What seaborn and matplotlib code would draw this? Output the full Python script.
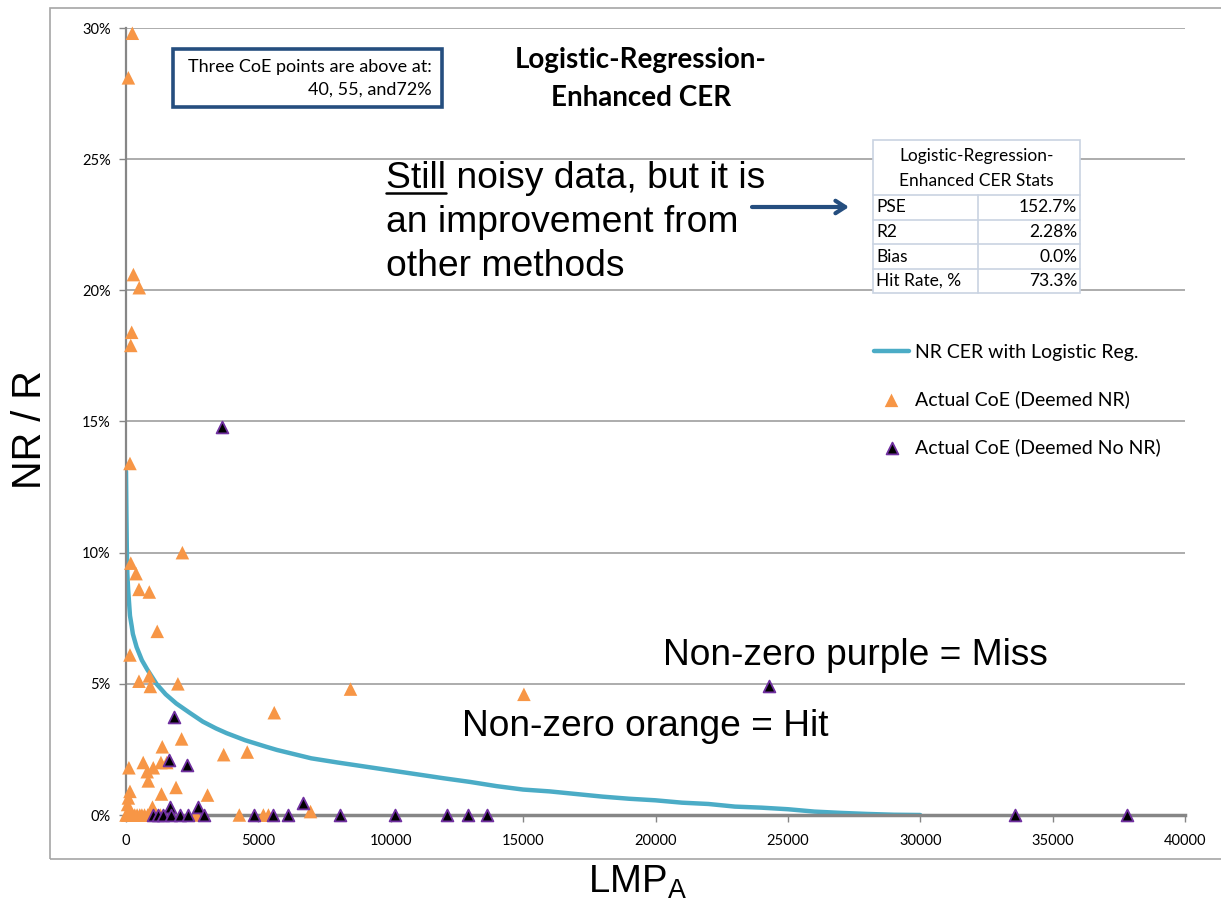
import matplotlib
matplotlib.use("Agg")
import numpy as np
import pandas as pd
import seaborn as sns
import matplotlib.pyplot as plt
from matplotlib.patches import Rectangle
from matplotlib.lines import Line2D
from matplotlib.ticker import FuncFormatter

# ---------------- data ----------------
curve_lmp = [0, 15, 30, 50, 80, 150, 215, 260, 400, 600, 800, 1150, 1500, 1900, 2400,
             2900, 3400, 3800, 4500, 5300, 5700, 7000, 8000, 9000, 10000, 11000, 12000,
             13000, 14000, 15000, 16000, 17000, 18000, 19000, 20000, 21000, 22000, 23000,
             24000, 25000, 26000, 27000, 28000, 29000, 30000]
curve_nr = [13.1, 11.5, 10.2, 9.2, 8.6, 7.6, 7.2, 6.9, 6.4, 5.9, 5.55, 5.0, 4.6, 4.25, 3.9,
            3.56, 3.3, 3.12, 2.85, 2.6, 2.48, 2.16, 2.0, 1.85, 1.7, 1.55, 1.4,
            1.26, 1.1, 0.97, 0.9, 0.8, 0.7, 0.62, 0.56, 0.47, 0.42, 0.32,
            0.28, 0.22, 0.13, 0.08, 0.04, 0.01, 0.0]

hit_lmp = [240, 90, 280, 500, 215, 180, 150, 180, 380, 490, 880, 2130, 1180, 150, 490, 880,
           920, 1960, 8480, 15030, 5600, 1370, 2100, 3690, 4580, 110, 650, 800, 1030, 1320,
           1540, 840, 1340, 1890, 3080, 150, 90, 60, 6970, 1000,
           0, 50, 100, 180, 250, 330, 420, 520, 600, 700, 820, 1000, 1150, 1300, 2650,
           4280, 5190, 5380]
hit_nr = [29.8, 28.1, 20.6, 20.1, 18.4, 17.9, 13.4, 9.6, 9.2, 8.6, 8.5, 10.0, 7.0, 6.1, 5.1, 5.3,
          4.9, 5.0, 4.8, 4.6, 3.9, 2.6, 2.9, 2.3, 2.4, 1.8, 2.0, 1.65, 1.8, 2.0,
          2.0, 1.3, 0.8, 1.05, 0.76, 0.9, 0.65, 0.4, 0.13, 0.3,
          0, 0, 0, 0, 0, 0, 0, 0, 0, 0, 0, 0, 0, 0, 0,
          0, 0, 0]

miss_lmp = [3625, 24280, 1810, 1620, 2300, 1660, 2730, 6700,
            1030, 1220, 1410, 1700, 2040, 2350, 2960, 4830, 5560, 6130, 8080, 10160,
            12110, 12900, 13620, 33570, 37800]
miss_nr = [14.8, 4.9, 3.75, 2.1, 1.9, 0.32, 0.32, 0.45,
           0, 0, 0, 0, 0, 0, 0, 0, 0, 0, 0, 0,
           0, 0, 0, 0, 0]

x_ticks = [0, 5000, 10000, 15000, 20000, 25000, 30000, 35000, 40000]
y_ticks = [0, 5, 10, 15, 20, 25, 30]

series_labels = ["NR CER with Logistic Reg.", "Actual CoE (Deemed NR)", "Actual CoE (Deemed No NR)"]
stats_title = ["Logistic-Regression-", "Enhanced CER Stats"]
stats_names = ["PSE", "R2", "Bias", "Hit Rate, %"]
stats_values = ["152.7%", "2.28%", "0.0%", "73.3%"]

# ---------------- style ----------------
sns.set_style("white")
plt.rcParams["font.family"] = ["Lato", "DejaVu Sans"]
plt.rcParams["text.color"] = "black"
plt.rcParams["axes.labelcolor"] = "black"
plt.rcParams["xtick.color"] = "black"
plt.rcParams["ytick.color"] = "black"
ARIAL = ["Liberation Sans", "DejaVu Sans"]

W, H = 1221, 905
fig = plt.figure(figsize=(W / 100, H / 100), dpi=100)
fig.patch.set_facecolor("white")


def fx(x):
    return x / W


def fy(y):
    return 1 - y / H


ax = fig.add_axes([fx(126), fy(815), (1185 - 126) / W, (815 - 28) / H])
ax.set_facecolor("none")

C_LINE = "#4BACC6"
C_ORANGE = "#F79646"
C_PURPLE = "#7030A0"
C_NAVY = "#254E7F"

sns.lineplot(x=curve_lmp, y=curve_nr, ax=ax, color=C_LINE, lw=3.2, sort=False,
             label=series_labels[0], zorder=2)
sns.scatterplot(x=hit_lmp, y=hit_nr, ax=ax, marker="^", s=95, color=C_ORANGE,
                edgecolor="none", linewidth=0, label=series_labels[1], zorder=3, clip_on=False)
sns.scatterplot(x=miss_lmp, y=miss_nr, ax=ax, marker="^", s=72, color="black",
                edgecolor=C_PURPLE, linewidth=1.3, label=series_labels[2], zorder=4, clip_on=False)

ax.set_xlim(0, 40000)
ax.set_ylim(0, 30)
ax.set_xticks(x_ticks)
ax.set_yticks(y_ticks)
ax.yaxis.set_major_formatter(FuncFormatter(lambda v, p: f"{v:.0f}%"))
ax.set_xlabel("")
ax.set_ylabel("")
ax.grid(axis="y", color="#A6A6A6", lw=1.3)
ax.grid(axis="x", visible=False)
for s in ["top", "right"]:
    ax.spines[s].set_visible(False)
ax.spines["left"].set_color("#868686")
ax.spines["left"].set_linewidth(1.6)
ax.spines["bottom"].set_color("#868686")
ax.spines["bottom"].set_linewidth(2.5)
ax.tick_params(axis="x", direction="out", length=5, width=1, color="#868686",
               labelcolor="black", labelsize=10.5, pad=9, bottom=True)
ax.tick_params(axis="y", direction="out", length=5, width=1, color="#868686",
               labelcolor="black", labelsize=10.5, pad=6, left=True)

handles, labels = ax.get_legend_handles_labels()
leg = ax.legend(handles, labels, loc="upper left", bbox_to_anchor=(fx(874), fy(344)),
                bbox_transform=fig.transFigure, frameon=False, fontsize=14,
                handlelength=1.8, handletextpad=0.3, labelspacing=1.52,
                borderpad=0, borderaxespad=0)
for t in leg.get_texts():
    t.set_color("black")

# ---------------- outer chart frame ----------------
fig.patches.append(Rectangle((fx(50), fy(859)), 1.2, fy(8) - fy(859),
                             transform=fig.transFigure, fill=False,
                             ec="#A6A6A6", lw=1.2, zorder=1))

# ---------------- note box ----------------
fig.patches.append(Rectangle((fx(173), fy(107)), (442 - 173) / W, (107 - 49) / H,
                             transform=fig.transFigure, facecolor="white",
                             ec=C_NAVY, lw=2.6, zorder=2))
fig.text(fx(432), fy(67), "Three CoE points are above at:", ha="right", va="center",
         fontsize=13, zorder=5)
fig.text(fx(432), fy(90), "40, 55, and72%", ha="right", va="center", fontsize=13, zorder=5)

# ---------------- chart heading ----------------
fig.text(fx(641), fy(60), "Logistic-Regression-", ha="center", va="center",
         fontsize=20, fontweight="bold", zorder=5)
fig.text(fx(641), fy(98), "Enhanced CER", ha="center", va="center",
         fontsize=20, fontweight="bold", zorder=5)

# ---------------- big comment ----------------
fig.text(fx(386), fy(188), "Still noisy data, but it is", ha="left", va="baseline",
         fontsize=26.8, family=ARIAL, zorder=5)
fig.text(fx(386), fy(232), "an improvement from", ha="left", va="baseline",
         fontsize=26.8, family=ARIAL, zorder=5)
fig.text(fx(386), fy(276), "other methods", ha="left", va="baseline",
         fontsize=26.8, family=ARIAL, zorder=5)
fig.add_artist(Line2D([fx(386), fx(446)], [fy(193.5), fy(193.5)],
                      transform=fig.transFigure, color="black", lw=1.8))
ax.annotate("", xy=(849, H - 207), xytext=(752, H - 207), xycoords="figure pixels",
            textcoords="figure pixels", annotation_clip=False,
            arrowprops=dict(arrowstyle="->,head_length=0.7,head_width=0.45",
                            color=C_NAVY, lw=3, shrinkA=0, shrinkB=0))

# ---------------- stats table ----------------
TL, TR, TM = 873, 1080, 978
row_edges = [140, 195, 220, 244, 269, 293]
border = "#C9D3E2"
fig.patches.append(Rectangle((fx(TL), fy(row_edges[-1])), (TR - TL) / W,
                             (row_edges[-1] - row_edges[0]) / H, transform=fig.transFigure,
                             facecolor="white", ec=border, lw=1.2, zorder=2))
for yy in row_edges[1:-1]:
    fig.add_artist(Line2D([fx(TL), fx(TR)], [fy(yy), fy(yy)], transform=fig.transFigure,
                          color=border, lw=1.2, zorder=3))
fig.add_artist(Line2D([fx(TM), fx(TM)], [fy(row_edges[1]), fy(row_edges[-1])],
                      transform=fig.transFigure, color=border, lw=1.2, zorder=3))
fig.text(fx((TL + TR) / 2), fy(156), stats_title[0], ha="center", va="center",
         fontsize=12.5, zorder=5)
fig.text(fx((TL + TR) / 2), fy(181), stats_title[1], ha="center", va="center",
         fontsize=12.5, zorder=5)
for i, (nm, vl) in enumerate(zip(stats_names, stats_values)):
    yc = (row_edges[i + 1] + row_edges[i + 2]) / 2
    fig.text(fx(TL + 3), fy(yc), nm, ha="left", va="center", fontsize=12.5, zorder=5)
    fig.text(fx(TR - 3), fy(yc), vl, ha="right", va="center", fontsize=12.5, zorder=5)

# ---------------- hit / miss notes ----------------
fig.text(fx(663), fy(665), "Non-zero purple = Miss", ha="left", va="baseline",
         fontsize=26.7, family=ARIAL, zorder=5)
fig.text(fx(462), fy(736), "Non-zero orange = Hit", ha="left", va="baseline",
         fontsize=26.7, family=ARIAL, zorder=5)

# ---------------- axis titles ----------------
fig.text(fx(30), fy(430), "NR / R", rotation=90, ha="center", va="center",
         fontsize=28.5, family=ARIAL)
fig.text(fx(637), fy(882), r"$\mathregular{LMP_A}$", ha="center", va="center",
         fontsize=27.5, family=ARIAL)

fig.savefig("out.png", dpi=100)
